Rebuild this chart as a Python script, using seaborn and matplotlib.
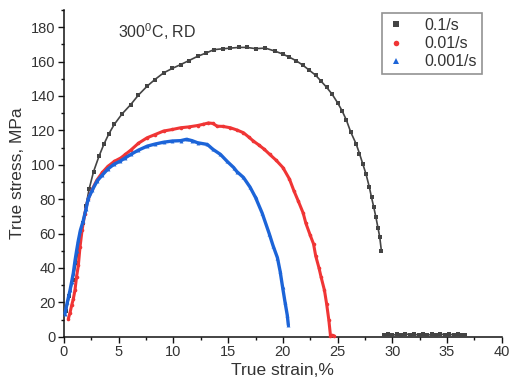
import numpy as np
import pandas as pd
import matplotlib
matplotlib.use("Agg")
import matplotlib.pyplot as plt
from matplotlib.lines import Line2D
from matplotlib.ticker import MultipleLocator
import seaborn as sns

# ---- data ----
rates = ["0.1/s", "0.01/s", "0.001/s"]

strain_01 = [0.2, 0.5, 0.8, 1.1, 1.4, 1.7, 2.0, 2.3, 2.7, 3.2, 3.65, 4.1, 4.6, 5.3, 6.1, 6.8,
             7.6, 8.3, 9.1, 9.9, 10.65, 11.4, 12.2, 13.0, 13.7, 14.5, 15.2, 16.0, 16.7, 17.5,
             18.4, 19.3, 20.0, 20.6, 21.2, 21.8, 22.4, 23.0, 23.5, 24.0, 24.5, 25.0, 25.4,
             25.8, 26.2, 26.7, 27.0, 27.3, 27.6, 27.9, 28.1, 28.3, 28.5, 28.7, 28.85, 29.0]
stress_01 = [15, 24, 33, 43, 55, 66, 76, 86, 96, 105, 112, 118, 123.5, 129.5, 135, 140.5,
             145.7, 149.5, 153.4, 156, 158.2, 160.5, 163, 165, 166.9, 167.4, 167.8, 168.2, 168.2,
             167.5, 167.8, 166, 164.3, 162.5, 160.5, 158, 155, 152, 148.5, 145, 141, 136, 131.5,
             126, 119, 112, 106.5, 100.5, 94.5, 87, 81, 75.5, 69.5, 63, 58, 50]
# residual (post-fracture) readings of the 0.1/s test
strain_01_tail = [29.2, 29.6, 30.0, 30.4, 30.8, 31.2, 31.6, 32.0, 32.4, 32.8, 33.2, 33.6,
                  34.0, 34.4, 34.8, 35.2, 35.6, 36.0, 36.3, 36.6]
stress_01_tail = [1.2, 1.8, 0.8, 1.5, 1.0, 1.9, 0.9, 1.4, 1.1, 1.7, 0.8, 1.5, 1.2, 1.8,
                  0.9, 1.6, 1.0, 1.4, 0.9, 1.2]

strain_001 = [0.4, 0.55, 0.7, 0.85, 1.0, 1.15, 1.31, 1.46, 1.65, 1.9, 2.2, 2.6, 3.0, 3.5, 4.0,
              4.6, 5.2, 5.6, 6.1, 6.8, 7.6, 8.3, 9.1, 9.9, 10.65, 11.4, 12.2, 12.7, 13.2, 13.6,
              14.0, 14.5, 15.2, 15.8, 16.4, 16.9, 17.3, 17.8, 18.3, 18.8, 19.4, 20.0, 20.6, 21.0,
              21.4, 21.85, 22.1, 22.5, 22.8, 23.0, 23.3, 23.5, 23.8, 24.0, 24.2, 24.35, 24.5, 24.7]
stress_001 = [10.6, 14, 18.3, 22, 27, 35, 41.5, 52, 62, 71.5, 80, 86, 91, 95.5, 99,
              102, 104, 106, 108.5, 112.5, 115.7, 117.5, 119.6, 120.5, 121.5, 122, 122.8, 123.5,
              124.3, 124, 122.4, 122.3, 121.5, 120.2, 118.6, 116, 113.8, 111.5, 109, 106, 102.5,
              98.4, 91.7, 85, 79, 72, 66, 59, 54, 47, 40, 34.5, 27, 19, 9.7, 0.6, 0.8, 0.5]

strain_0001 = [0.09, 0.3, 0.55, 0.7, 0.85, 1.0, 1.15, 1.31, 1.5, 1.76, 2.0, 2.2, 2.6, 3.04, 3.5,
               4.0, 4.57, 5.1, 5.6, 6.1, 6.8, 7.6, 8.3, 9.1, 9.9, 10.65, 11.2, 11.7, 12.2, 13.1,
               13.6, 14.3, 14.9, 15.5, 15.8, 16.4, 17.0, 17.5, 18.1, 18.75, 19.1, 19.5, 19.75,
               19.97, 20.2, 20.4, 20.5]
stress_0001 = [13.5, 20, 27, 32, 37, 44, 50, 56, 62, 67.5, 74, 80, 85.5, 90.7, 94,
               97.5, 100.3, 102, 104, 106, 108.5, 110.8, 112, 113.1, 113.8, 114, 114.8, 114, 112.8,
               111.8, 109, 106, 102, 98.4, 96, 92.6, 87, 81, 72, 60, 53, 46, 38, 29, 20, 12.6, 6.8]

x_ticks = [0, 5, 10, 15, 20, 25, 30, 35, 40]
y_ticks = [0, 20, 40, 60, 80, 100, 120, 140, 160, 180]

# ---- style ----
sns.set_style("ticks")
plt.rcParams["font.family"] = ["Liberation Sans", "DejaVu Sans"]
plt.rcParams["mathtext.fontset"] = "custom"
plt.rcParams["mathtext.rm"] = "Liberation Sans"
plt.rcParams["mathtext.it"] = "Liberation Sans"

colors = {"0.1/s": "#444444", "0.01/s": "#f03535", "0.001/s": "#1c64d8"}
markers = {"0.1/s": "s", "0.01/s": "o", "0.001/s": "^"}
lws = {"0.1/s": 1.2, "0.01/s": 2.2, "0.001/s": 2.4}
msz = {"0.1/s": 2.2, "0.01/s": 2.6, "0.001/s": 2.8}

fig = plt.figure(figsize=(5.12, 3.81), dpi=100)
ax = fig.add_axes([0.125, 0.116, 0.855, 0.858])

series = [
    ("0.1/s", strain_01, stress_01),
    ("0.1/s", strain_01_tail, stress_01_tail),
    ("0.01/s", strain_001, stress_001),
    ("0.001/s", strain_0001, stress_0001),
]
for rate, xs, ys in series:
    d = pd.DataFrame({"strain": xs, "stress": ys})
    sns.lineplot(data=d, x="strain", y="stress", ax=ax, sort=False, estimator=None,
                 color=colors[rate], linewidth=lws[rate], marker=markers[rate],
                 markersize=msz[rate], markeredgewidth=0, zorder=3, clip_on=False)

ax.set_xlim(0, 40)
ax.set_ylim(0, 190)
ax.set_xticks(x_ticks)
ax.set_yticks(y_ticks)
ax.xaxis.set_minor_locator(MultipleLocator(2.5))
ax.yaxis.set_minor_locator(MultipleLocator(10))
ax.tick_params(which="major", direction="out", length=4, width=1, labelsize=10.5,
               colors="#111111", labelcolor="#333333", pad=2)
ax.tick_params(which="minor", direction="out", length=2, width=1, colors="#111111")
for sp in ["top", "right"]:
    ax.spines[sp].set_visible(False)
for sp in ["left", "bottom"]:
    ax.spines[sp].set_linewidth(1.1)
    ax.spines[sp].set_color("#111111")

ax.set_xlabel("True strain,%", fontsize=12.5, color="#333333", labelpad=3)
ax.set_ylabel("True stress, MPa", fontsize=12.5, color="#333333", labelpad=4)

ax.text(0.123, 0.914, r"300$^{\mathrm{0}}$C, RD", transform=ax.transAxes,
        fontsize=11.5, color="#333333", va="baseline", ha="left")

handles = [Line2D([], [], linestyle="none", marker=markers[r], color=colors[r],
                  markersize=4, markeredgewidth=0) for r in rates]
leg = ax.legend(handles, rates, loc="upper right", bbox_to_anchor=(0.955, 0.99),
                fontsize=11.5, frameon=True, fancybox=False, edgecolor="#777777",
                handlelength=1.2, handletextpad=1.2, borderpad=0.3, labelspacing=0.2,
                borderaxespad=0)
leg.get_frame().set_linewidth(1.2)
for t in leg.get_texts():
    t.set_color("#333333")

fig.savefig("out.png", dpi=100)
